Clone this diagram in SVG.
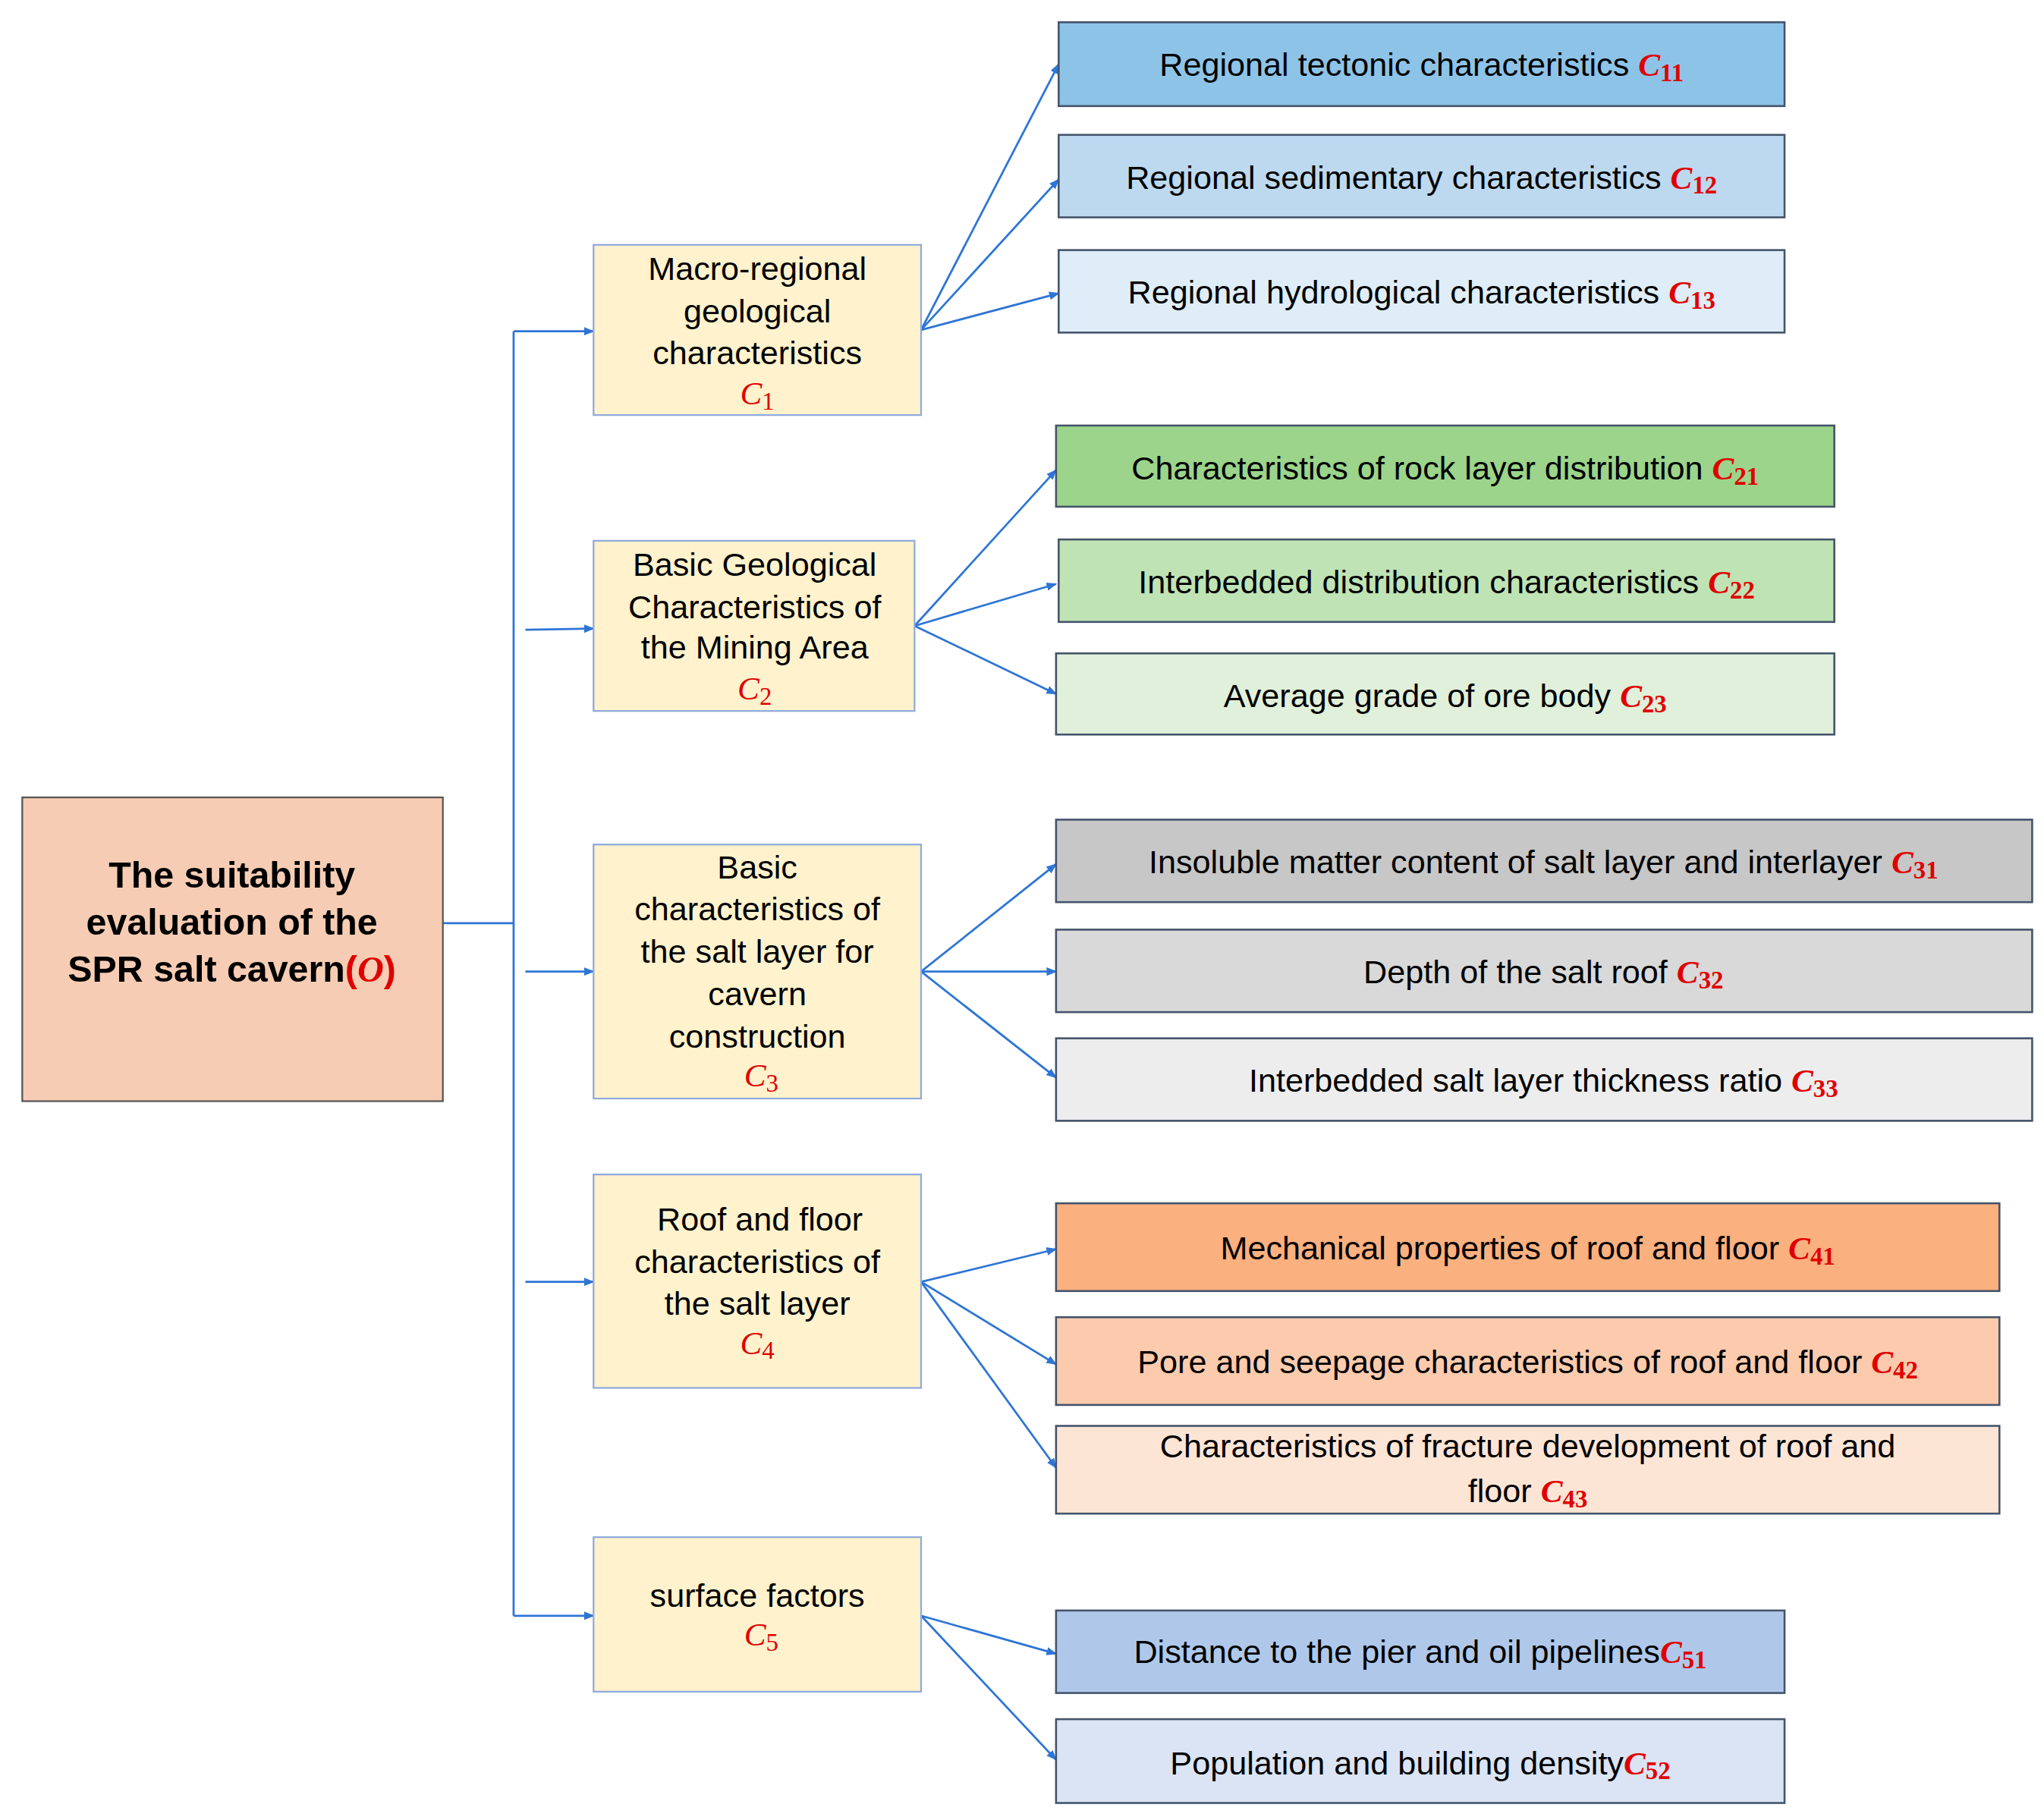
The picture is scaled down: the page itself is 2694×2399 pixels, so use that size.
<svg xmlns="http://www.w3.org/2000/svg" width="2694" height="2399" viewBox="0 0 2694 2399">
<style>
.t{font-family:"Liberation Sans",Arial,sans-serif;font-size:25px;fill:#000;text-anchor:middle}
.m{font-family:"Liberation Serif",serif;font-style:italic;font-weight:bold;fill:#e00000}
.mi{font-family:"Liberation Serif",serif;font-style:italic;fill:#e00000}
.s{font-size:19px;font-style:normal}
.mid{fill:#FFF2CC;stroke:#8FAADC;stroke-width:1.3}
.lf{stroke:#44546A;stroke-width:1.5}
.c{stroke:#2E75D6;stroke-width:1.6;fill:none}
</style>
<defs><marker id="a" viewBox="0 0 10 10" refX="9" refY="5" markerWidth="5" markerHeight="5" orient="auto"><path d="M0,1 L10,5 L0,9 z" fill="#2E75D6"/></marker></defs>
<rect width="2694" height="2399" fill="#fff"/>
<g transform="scale(1.7269 1.7259)">
<g id="connectors">
<path class="c" d="M330,705 H392 M392,253 V1234"/>
<path class="c" marker-end="url(#a)" d="M392,253 H453"/>
<path class="c" marker-end="url(#a)" d="M401,481 L453,480"/>
<path class="c" marker-end="url(#a)" d="M401,742 H453"/>
<path class="c" marker-end="url(#a)" d="M401,979 H453"/>
<path class="c" marker-end="url(#a)" d="M392,1234 H453"/>
<path class="c" marker-end="url(#a)" d="M703,252 L808,49"/>
<path class="c" marker-end="url(#a)" d="M703,252 L808,137"/>
<path class="c" marker-end="url(#a)" d="M703,252 L808,224"/>
<path class="c" marker-end="url(#a)" d="M698,478 L806,359"/>
<path class="c" marker-end="url(#a)" d="M698,478 L806,446"/>
<path class="c" marker-end="url(#a)" d="M698,478 L806,530"/>
<path class="c" marker-end="url(#a)" d="M703,742 L806,660"/>
<path class="c" marker-end="url(#a)" d="M703,742 L806,742"/>
<path class="c" marker-end="url(#a)" d="M703,742 L806,823"/>
<path class="c" marker-end="url(#a)" d="M703,979 L806,954"/>
<path class="c" marker-end="url(#a)" d="M703,979 L806,1042"/>
<path class="c" marker-end="url(#a)" d="M703,979 L806,1121"/>
<path class="c" marker-end="url(#a)" d="M703,1234 L806,1263"/>
<path class="c" marker-end="url(#a)" d="M703,1234 L806,1344"/>
</g>
<g id="O">
<rect x="17" y="609" width="321" height="232" fill="#F6CDB4" stroke="#555" stroke-width="1.3"/>
<text class="t" style="font-weight:bold;font-size:28px"><tspan x="177" y="678">The suitability</tspan><tspan x="177" y="714">evaluation of the</tspan><tspan x="177" y="750">SPR salt cavern<tspan fill="#e00000">(</tspan><tspan class="m">O</tspan><tspan fill="#e00000">)</tspan></tspan></text>
</g>
<g id="C1">
<rect class="mid" x="453" y="187" width="250" height="130"/>
<text class="t"><tspan x="578" y="214">Macro-regional</tspan><tspan x="578" y="246">geological</tspan><tspan x="578" y="278">characteristics</tspan><tspan x="578" y="309" class="mi">C<tspan class="s" dy="4">1</tspan></tspan></text>
</g>
<g id="C2">
<rect class="mid" x="453" y="413" width="245" height="130"/>
<text class="t"><tspan x="576" y="440">Basic Geological</tspan><tspan x="576" y="472">Characteristics of</tspan><tspan x="576" y="503">the Mining Area</tspan><tspan x="576" y="534" class="mi">C<tspan class="s" dy="4">2</tspan></tspan></text>
</g>
<g id="C3">
<rect class="mid" x="453" y="645" width="250" height="194"/>
<text class="t"><tspan x="578" y="671">Basic</tspan><tspan x="578" y="703">characteristics of</tspan><tspan x="578" y="735">the salt layer for</tspan><tspan x="578" y="768">cavern</tspan><tspan x="578" y="800">construction</tspan><tspan x="581" y="830" class="mi">C<tspan class="s" dy="4">3</tspan></tspan></text>
</g>
<g id="C4">
<rect class="mid" x="453" y="897" width="250" height="163"/>
<text class="t"><tspan x="580" y="940">Roof and floor</tspan><tspan x="578" y="972">characteristics of</tspan><tspan x="578" y="1004">the salt layer</tspan><tspan x="578" y="1034" class="mi">C<tspan class="s" dy="4">4</tspan></tspan></text>
</g>
<g id="C5">
<rect class="mid" x="453" y="1174" width="250" height="118"/>
<text class="t"><tspan x="578" y="1227">surface factors</tspan><tspan x="581" y="1257" class="mi">C<tspan class="s" dy="4">5</tspan></tspan></text>
</g>
<g id="C11"><rect class="lf" x="808" y="17" width="554" height="64" fill="#8EC3E8"/><text class="t" x="1085" y="58">Regional tectonic characteristics <tspan class="m">C<tspan class="s" dy="4">11</tspan></tspan></text></g>
<g id="C12"><rect class="lf" x="808" y="103" width="554" height="63" fill="#BDD9F0"/><text class="t" x="1085" y="144">Regional sedimentary characteristics <tspan class="m">C<tspan class="s" dy="4">12</tspan></tspan></text></g>
<g id="C13"><rect class="lf" x="808" y="191" width="554" height="63" fill="#DEEDF8"/><text class="t" x="1085" y="232">Regional hydrological characteristics <tspan class="m">C<tspan class="s" dy="4">13</tspan></tspan></text></g>
<g id="C21"><rect class="lf" x="806" y="325" width="594" height="62" fill="#9BD48A"/><text class="t" x="1103" y="366">Characteristics of rock layer distribution <tspan class="m">C<tspan class="s" dy="4">21</tspan></tspan></text></g>
<g id="C22"><rect class="lf" x="808" y="412" width="592" height="63" fill="#BFE3B4"/><text class="t" x="1104" y="453">Interbedded distribution characteristics <tspan class="m">C<tspan class="s" dy="4">22</tspan></tspan></text></g>
<g id="C23"><rect class="lf" x="806" y="499" width="594" height="62" fill="#E0F0DA"/><text class="t" x="1103" y="540">Average grade of ore body <tspan class="m">C<tspan class="s" dy="4">23</tspan></tspan></text></g>
<g id="C31"><rect class="lf" x="806" y="626" width="745" height="63" fill="#C7C7C7"/><text class="t" x="1178" y="667">Insoluble matter content of salt layer and interlayer <tspan class="m">C<tspan class="s" dy="4">31</tspan></tspan></text></g>
<g id="C32"><rect class="lf" x="806" y="710" width="745" height="63" fill="#D9D9D9"/><text class="t" x="1178" y="751">Depth of the salt roof <tspan class="m">C<tspan class="s" dy="4">32</tspan></tspan></text></g>
<g id="C33"><rect class="lf" x="806" y="793" width="745" height="63" fill="#EDEDED"/><text class="t" x="1178" y="834">Interbedded salt layer thickness ratio <tspan class="m">C<tspan class="s" dy="4">33</tspan></tspan></text></g>
<g id="C41"><rect class="lf" x="806" y="919" width="720" height="67" fill="#FBB07F"/><text class="t" x="1166" y="962">Mechanical properties of roof and floor <tspan class="m">C<tspan class="s" dy="4">41</tspan></tspan></text></g>
<g id="C42"><rect class="lf" x="806" y="1006" width="720" height="67" fill="#FCCBAD"/><text class="t" x="1166" y="1049">Pore and seepage characteristics of roof and floor <tspan class="m">C<tspan class="s" dy="4">42</tspan></tspan></text></g>
<g id="C43"><rect class="lf" x="806" y="1089" width="720" height="67" fill="#FDE5D6"/><text class="t"><tspan x="1166" y="1113">Characteristics of fracture development of roof and</tspan><tspan x="1166" y="1147">floor <tspan class="m">C<tspan class="s" dy="4">43</tspan></tspan></tspan></text></g>
<g id="C51"><rect class="lf" x="806" y="1230" width="556" height="63" fill="#AFC8EA"/><text class="t" x="1084" y="1270">Distance to the pier and oil pipelines<tspan class="m">C<tspan class="s" dy="4">51</tspan></tspan></text></g>
<g id="C52"><rect class="lf" x="806" y="1313" width="556" height="64" fill="#DAE4F4"/><text class="t" x="1084" y="1355">Population and building density<tspan class="m">C<tspan class="s" dy="4">52</tspan></tspan></text></g>
</g>
</svg>
